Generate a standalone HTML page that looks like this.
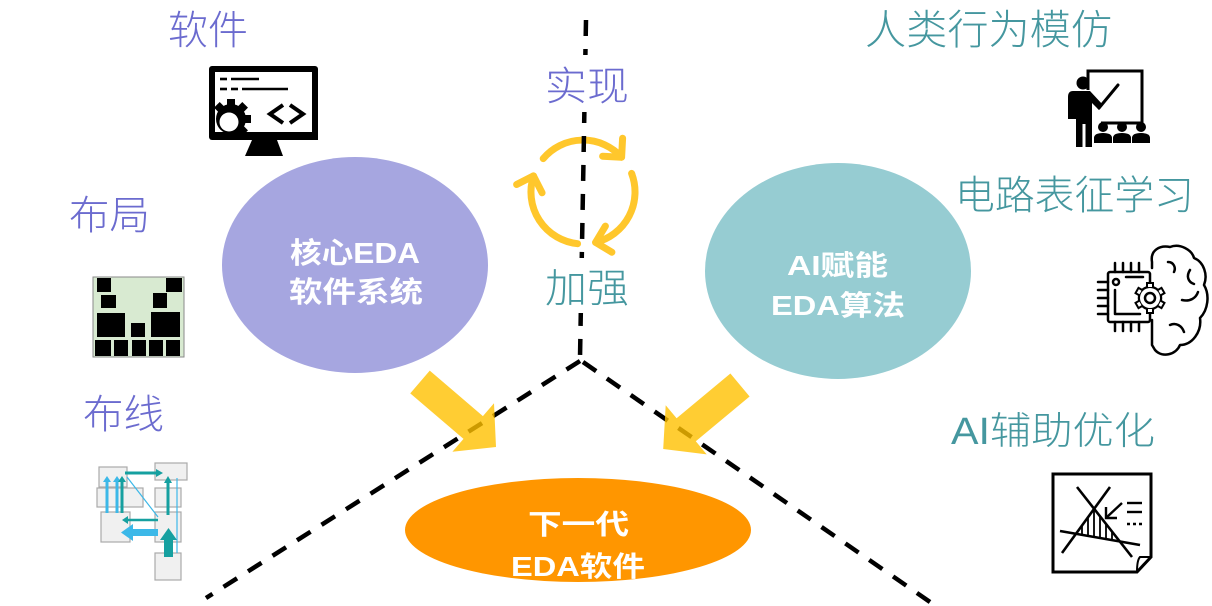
<!DOCTYPE html>
<html><head><meta charset="utf-8"><style>
html,body{margin:0;padding:0;background:#fff;}
svg{display:block;}
.lbl{font-family:"Liberation Sans","Noto Sans CJK SC",sans-serif;font-weight:300;}
.p{fill:#6b6bcf;}
.t{fill:#45979f;}
.w{font-family:"Liberation Sans","Noto Sans CJK SC",sans-serif;font-weight:bold;fill:#fff;}
</style></head><body>
<svg width="1212" height="606" viewBox="0 0 1212 606" xmlns="http://www.w3.org/2000/svg">
<defs>
<clipPath id="tri"><polygon points="1094,509 1120,541.5 1076,534"/></clipPath>
</defs>
<!-- ellipses -->
<ellipse cx="355" cy="265" rx="133" ry="108" fill="#a6a6e0"/>
<ellipse cx="838" cy="271" rx="133" ry="108" fill="#96ccd2"/>
<ellipse cx="578" cy="530" rx="173" ry="52" fill="#ff9600"/>

<!-- cycle arrows -->
<g fill="none" stroke="#ffc72c" stroke-width="7" stroke-linecap="round" stroke-linejoin="round">
<path d="M543.2,158.6 A52,52 0 0 1 621.6,157.2"/>
<path d="M602.6,156.2 L621.6,157.2 L622.6,138.2"/>
<path d="M631.6,173.4 A52,52 0 0 1 595.6,242.4"/>
<path d="M605.4,226.1 L595.6,242.4 L611.9,252.2"/>
<path d="M577.6,243.7 A52,52 0 0 1 533.5,175.9"/>
<path d="M516.6,184.5 L533.5,175.9 L542.1,192.8"/>
</g>

<!-- dashed lines -->
<g stroke="#000" stroke-width="4.5" fill="none" stroke-dasharray="16 13">
<line x1="586" y1="20" x2="580" y2="358"/>
<line x1="580" y1="361" x2="206" y2="598"/>
<line x1="583" y1="362" x2="930" y2="602"/>
</g>
<rect x="570" y="55" width="30" height="57" fill="#fff"/>
<rect x="570" y="258" width="30" height="55" fill="#fff"/>

<!-- yellow arrows -->
<g fill="#ffc000" opacity="0.8">
<polygon points="429.75,370.6 482.9,416.1 494,403.2 496,447 452.4,451.8 463.5,438.9 410.25,393.4"/>
<polygon points="730.4,373.5 676.6,418.3 665.7,405.2 663.2,449 706.7,454.4 695.8,441.3 749.6,396.5"/>
</g>

<!-- labels -->
<text class="lbl p" x="168" y="44" font-size="40" textLength="80" lengthAdjust="spacingAndGlyphs">软件</text>
<text class="lbl p" x="69" y="229" font-size="40" textLength="81" lengthAdjust="spacingAndGlyphs">布局</text>
<text class="lbl p" x="83" y="428" font-size="40" textLength="81" lengthAdjust="spacingAndGlyphs">布线</text>
<text class="lbl p" x="545" y="100" font-size="40" textLength="84" lengthAdjust="spacingAndGlyphs">实现</text>
<text class="lbl t" x="545" y="302" font-size="40" textLength="84" lengthAdjust="spacingAndGlyphs">加强</text>
<text class="lbl t" x="865" y="44" font-size="41" textLength="247" lengthAdjust="spacingAndGlyphs">人类行为模仿</text>
<text class="lbl t" x="955" y="209" font-size="40" textLength="239" lengthAdjust="spacingAndGlyphs">电路表征学习</text>
<text class="lbl t" x="951" y="444" font-size="38" textLength="204" lengthAdjust="spacingAndGlyphs">AI辅助优化</text>

<!-- ellipse text -->
<text class="w" x="290" y="263" font-size="29" textLength="130" lengthAdjust="spacingAndGlyphs">核心EDA</text>
<text class="w" x="289" y="302" font-size="29" textLength="134" lengthAdjust="spacingAndGlyphs">软件系统</text>
<text class="w" x="787" y="275" font-size="28" textLength="101" lengthAdjust="spacingAndGlyphs">AI赋能</text>
<text class="w" x="771" y="315" font-size="28" textLength="134" lengthAdjust="spacingAndGlyphs">EDA算法</text>
<text class="w" x="528" y="534" font-size="28" textLength="101" lengthAdjust="spacingAndGlyphs">下一代</text>
<text class="w" x="511" y="576" font-size="28" textLength="134" lengthAdjust="spacingAndGlyphs">EDA软件</text>

<!-- monitor icon -->
<g>
<rect x="209" y="66" width="109" height="74" rx="3" fill="#000"/>
<rect x="215" y="72" width="97" height="60" fill="#fff"/>
<g stroke="#000" stroke-width="2.6">
<line x1="220" y1="79" x2="227" y2="79"/><line x1="231" y1="79" x2="259" y2="79"/>
<line x1="220" y1="89" x2="227" y2="89"/><line x1="231" y1="89" x2="238" y2="89"/><line x1="242" y1="89" x2="288" y2="89"/>
</g>
<g fill="#000">
<circle cx="231" cy="119" r="15"/>
<g transform="translate(231,119)">
<rect x="-4" y="-20" width="8" height="8"/>
<rect x="-4" y="-20" width="8" height="8" transform="rotate(45)"/>
<rect x="-4" y="-20" width="8" height="8" transform="rotate(90)"/>
<rect x="-4" y="-20" width="8" height="8" transform="rotate(135)"/>
<rect x="-4" y="-20" width="8" height="8" transform="rotate(-45)"/>
</g>
</g>
<rect x="212" y="100" width="3" height="34" fill="#000"/>
<circle cx="229" cy="122" r="9.5" fill="#fff"/>
<rect x="212" y="132" width="106" height="8" fill="#000"/>
<path d="M283,105 L270,114 L283,123 M290,105 L303,114 L290,123" stroke="#000" stroke-width="4" fill="none"/>
<polygon points="252,140 277,140 283,156 245,156" fill="#000"/>
</g>

<!-- placement icon -->
<g>
<rect x="93" y="277" width="91" height="80" fill="#d8ead1" stroke="#8a8a8a" stroke-width="1"/>
<g fill="#000">
<rect x="97" y="278" width="14" height="14"/>
<rect x="166" y="278" width="16" height="14"/>
<rect x="101" y="295" width="15" height="13"/>
<rect x="153" y="293" width="14" height="15"/>
<rect x="97" y="313" width="28" height="24"/>
<rect x="131" y="323" width="14" height="14"/>
<rect x="151" y="312" width="29" height="25"/>
<rect x="95" y="340" width="16" height="16"/>
<rect x="114" y="340" width="14" height="16"/>
<rect x="132" y="340" width="14" height="16"/>
<rect x="149" y="340" width="14" height="16"/>
<rect x="166" y="340" width="14" height="16"/>
</g>
</g>

<!-- routing icon -->
<g>
<g fill="#f0f0f0" stroke="#aaa" stroke-width="1.2">
<rect x="99" y="467" width="28" height="20"/>
<rect x="97" y="488" width="46" height="19"/>
<rect x="101" y="512" width="29" height="30"/>
<rect x="155" y="463" width="32" height="17"/>
<rect x="155" y="488" width="26" height="19"/>
<rect x="155" y="512" width="26" height="30"/>
<rect x="155" y="553" width="26" height="27"/>
</g>
<g stroke="#3cb8e8" fill="none">
<line x1="107" y1="513" x2="107" y2="481" stroke-width="3"/>
<line x1="117" y1="513" x2="117" y2="481" stroke-width="3"/>
<line x1="177" y1="478" x2="177" y2="553" stroke-width="1.2"/>
<line x1="127" y1="477" x2="158" y2="517" stroke-width="1.2"/>
</g>
<g fill="#3cb8e8">
<polygon points="103,482 111,482 107,476"/>
<polygon points="113,482 121,482 117,476"/>
<rect x="132" y="529" width="26" height="7"/>
<polygon points="133,524 133,541 121,532.5"/>
</g>
<g stroke="#16a0a0" fill="none">
<line x1="122" y1="513" x2="122" y2="481" stroke-width="3"/>
<line x1="125" y1="473" x2="157" y2="473" stroke-width="3"/>
<line x1="168" y1="515" x2="168" y2="482" stroke-width="3"/>
<line x1="158" y1="520" x2="127" y2="520" stroke-width="2.5"/>
</g>
<g fill="#16a0a0">
<polygon points="118,482 126,482 122,476"/>
<polygon points="156,469 156,477 163,473"/>
<polygon points="164,483 172,483 168,476"/>
<polygon points="128,516 128,524 122,520"/>
<rect x="164" y="538" width="9" height="19"/>
<polygon points="160,540 177,540 168.5,528"/>
</g>
</g>

<!-- teacher icon -->
<g>
<path d="M1088,90 V71 H1142 V123 H1101" fill="none" stroke="#000" stroke-width="3"/>
<line x1="1099" y1="108" x2="1118" y2="85" stroke="#000" stroke-width="3" stroke-linecap="round"/>
<circle cx="1083" cy="83" r="6.5" fill="#000"/>
<path d="M1073,91 H1090 L1103,105 L1099,110 L1092,103 V147 H1085.5 V124 H1082.5 V147 H1076 V119 H1068 V97 Q1068,91 1073,91 Z" fill="#000"/>
<circle cx="1103" cy="127" r="5" fill="#000"/>
<circle cx="1122" cy="127" r="5" fill="#000"/>
<circle cx="1141" cy="127" r="5" fill="#000"/>
<path d="M1094,143 V138 Q1094,133 1103,133 Q1112,133 1112,138 V143 Z" fill="#000"/>
<path d="M1113,143 V138 Q1113,133 1122,133 Q1131,133 1131,138 V143 Z" fill="#000"/>
<path d="M1132,143 V138 Q1132,133 1141,133 Q1150,133 1150,138 V143 Z" fill="#000"/>
</g>

<!-- chip brain icon -->
<g fill="none" stroke="#000" stroke-width="2.5" stroke-linecap="round" stroke-linejoin="round">
<path d="M1152,268 V262 C1150,250 1160,245 1170,247 C1180,243 1192,250 1194,258 C1204,262 1208,275 1204,285 C1210,295 1208,310 1200,318 C1202,332 1192,345 1180,345 C1176,355 1162,358 1155,350 L1152,345 V320"/>
<path d="M1168,262 C1174,262 1176,268 1174,272"/>
<path d="M1190,270 C1186,276 1188,282 1194,284"/>
<path d="M1182,300 C1190,302 1196,298 1198,292"/>
<path d="M1170,325 C1176,322 1182,326 1184,332"/>
<rect x="1108" y="272" width="42" height="50" rx="2"/>
<path d="M1115,290 V314 H1140"/>
<path d="M1126,277 H1143"/>
<line x1="1098" y1="282" x2="1108" y2="282"/><line x1="1098" y1="290" x2="1108" y2="290"/>
<line x1="1098" y1="298" x2="1108" y2="298"/><line x1="1098" y1="306" x2="1108" y2="306"/>
<line x1="1098" y1="314" x2="1108" y2="314"/>
<line x1="1115" y1="263" x2="1115" y2="272"/><line x1="1123" y1="263" x2="1123" y2="272"/>
<line x1="1131" y1="263" x2="1131" y2="272"/><line x1="1139" y1="263" x2="1139" y2="272"/>
<line x1="1115" y1="322" x2="1115" y2="331"/><line x1="1123" y1="322" x2="1123" y2="331"/>
<line x1="1131" y1="322" x2="1131" y2="331"/><line x1="1139" y1="322" x2="1139" y2="331"/>
<circle cx="1116" cy="282" r="3"/>
</g>
<g transform="translate(1150,298)">
<circle r="11" fill="#fff" stroke="#000" stroke-width="2.5"/>
<g fill="#fff" stroke="#000" stroke-width="2">
<rect x="-3" y="-15" width="6" height="5"/>
<rect x="-3" y="-15" width="6" height="5" transform="rotate(60)"/>
<rect x="-3" y="-15" width="6" height="5" transform="rotate(120)"/>
<rect x="-3" y="-15" width="6" height="5" transform="rotate(180)"/>
<rect x="-3" y="-15" width="6" height="5" transform="rotate(240)"/>
<rect x="-3" y="-15" width="6" height="5" transform="rotate(300)"/>
</g>
<circle r="10" fill="#fff"/>
<circle r="5" fill="none" stroke="#000" stroke-width="2.5"/>
</g>

<!-- optimization icon -->
<g fill="none" stroke="#000" stroke-width="3">
<path d="M1053,474 H1151 V557 L1137,572 H1053 Z"/>
<path d="M1151,557 H1140 Q1137,560 1137,572" stroke-width="2"/>
<line x1="1077" y1="487" x2="1132" y2="557" stroke-width="2.6"/>
<line x1="1110" y1="487" x2="1062" y2="553" stroke-width="2.6"/>
<line x1="1060" y1="531" x2="1140" y2="545" stroke-width="2.6"/>
<g clip-path="url(#tri)" stroke-width="1.8">
<line x1="1082" y1="500" x2="1082" y2="550"/>
<line x1="1088" y1="500" x2="1088" y2="550"/>
<line x1="1094" y1="500" x2="1094" y2="550"/>
<line x1="1100" y1="500" x2="1100" y2="550"/>
<line x1="1106" y1="500" x2="1106" y2="550"/>
<line x1="1112" y1="500" x2="1112" y2="550"/>
</g>
<line x1="1122" y1="503" x2="1107" y2="517" stroke-width="2.4"/>
<path d="M1106,507 V518 H1117" stroke-width="2.4"/>
<line x1="1127" y1="503" x2="1142" y2="503" stroke-width="2.4"/>
<line x1="1127" y1="512" x2="1142" y2="512" stroke-width="2.4"/>
<path d="M1127,524 H1130 M1133,524 H1136 M1139,524 H1142" stroke-width="2.4"/>
</g>
</svg>
</body></html>
